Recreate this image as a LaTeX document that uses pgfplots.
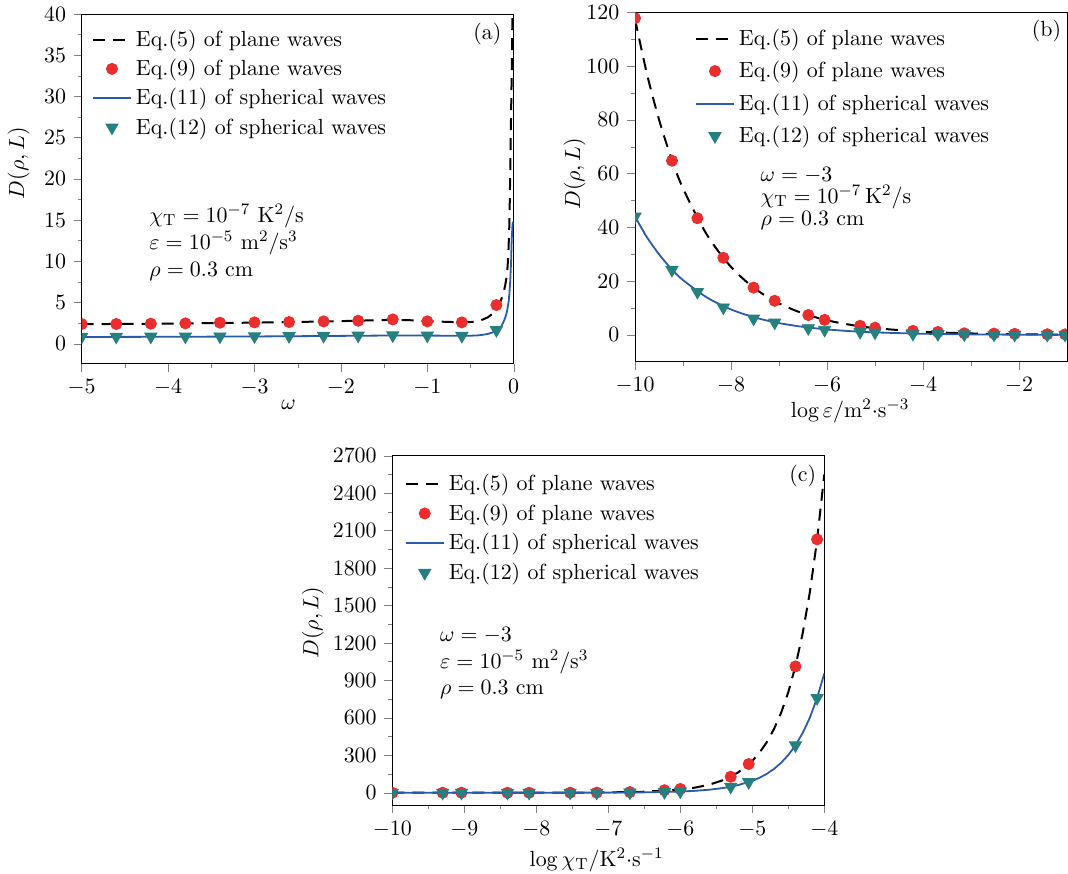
\documentclass[11pt,border=0pt]{standalone}
\usepackage{pgfplots}
\pgfplotsset{compat=1.18}

\definecolor{cred}{RGB}{235,45,45}
\definecolor{cteal}{RGB}{38,128,128}
\definecolor{cblue}{RGB}{42,90,170}

\pgfplotsset{
  panel/.style={
    scale only axis, width=216pt, height=174.75pt,
    anchor=north west,
    axis line style={line width=0.5pt},
    tick align=outside, tick pos=left,
    minor x tick num=1, minor y tick num=1,
    major tick length=4pt, minor tick length=2pt,
    clip marker paths=true,
    /pgf/number format/1000 sep={},
    legend cell align=left,
    legend style={draw=none, fill=none, anchor=north west},
  },
  eqfive/.style={black, line width=1pt, dash pattern=on 6pt off 4pt, no marks,
    legend image code/.code={\draw[##1] (0pt,0pt) -- (19pt,0pt);}},
  eqeleven/.style={cblue, line width=0.9pt, no marks,
    legend image code/.code={\draw[##1] (0pt,0pt) -- (19pt,0pt);}},
  eqnine/.style={cred, only marks, mark=*, mark size=2.8pt,
    legend image code/.code={\draw[##1] plot coordinates {(9.5pt,0pt)};}},
  eqtwelve/.style={cteal, only marks, mark=triangle*, mark size=3.5pt,
    mark options={rotate=180},
    legend image code/.code={\draw[##1] plot coordinates {(9.5pt,0pt)};}},
}

\begin{document}
\begin{tikzpicture}
\useasboundingbox (0,0) rectangle (534pt,-436.5pt);

% (a) D versus omega
\begin{axis}[panel, at={(40.85pt,-7pt)},
  xmin=-5, xmax=0, ymin=-2.4, ymax=40,
  xtick={-5,-4,-3,-2,-1,0}, ytick={0,5,...,40},
  xlabel={$\omega$}, ylabel={$D(\rho,L)$},
  xlabel style={at={(axis description cs:0.479,-0.119)}, anchor=center},
  ylabel style={at={(axis description cs:-0.146,0.573)}, anchor=center},
  legend style={at={(0.009,0.979)}, row sep=0.8pt},
]
\addplot[eqfive] coordinates {
  (-5,2.38) (-4.5,2.40) (-4,2.44) (-3.5,2.50) (-3,2.56) (-2.5,2.64) (-2,2.74)
  (-1.6,2.85) (-1.4,2.90) (-1.2,2.85) (-1,2.75) (-0.8,2.66) (-0.6,2.60)
  (-0.5,2.62) (-0.4,2.75) (-0.3,3.2) (-0.25,3.6) (-0.2,4.2) (-0.15,5.2)
  (-0.12,6.1) (-0.1,7.0) (-0.08,8.2) (-0.07,9.5) (-0.06,11.5) (-0.05,14.5)
  (-0.045,17.5) (-0.04,21) (-0.035,24.5) (-0.03,28) (-0.025,31.5) (-0.02,35)
  (-0.015,40) (-0.01,48)
};
\addlegendentry{Eq.(5) of plane waves}
\addplot[eqnine] coordinates {
  (-5,2.39) (-4.6,2.39) (-4.2,2.43) (-3.8,2.47) (-3.4,2.55) (-3,2.59) (-2.6,2.63)
  (-2.2,2.71) (-1.8,2.79) (-1.4,2.95) (-1,2.71) (-0.6,2.59) (-0.2,4.69)
};
\addlegendentry{Eq.(9) of plane waves}
\addplot[eqeleven] coordinates {
  (-5,0.82) (-4,0.84) (-3,0.88) (-2,0.95) (-1.4,1.0) (-1,0.99) (-0.6,0.96)
  (-0.5,0.97) (-0.4,1.02) (-0.3,1.18) (-0.25,1.35) (-0.2,1.6) (-0.15,2.0)
  (-0.12,2.6) (-0.1,3.1) (-0.08,3.8) (-0.06,5.0) (-0.05,6.0) (-0.04,7.6)
  (-0.03,10.0) (-0.025,12) (-0.02,13.3) (-0.015,14.2) (-0.01,14.8)
};
\addlegendentry{Eq.(11) of spherical waves}
\addplot[eqtwelve] coordinates {
  (-5,0.85) (-4.6,0.85) (-4.2,0.86) (-3.8,0.87) (-3.4,0.88) (-3,0.9) (-2.6,0.92)
  (-2.2,0.95) (-1.8,0.98) (-1.4,1.02) (-1,0.98) (-0.6,0.95) (-0.2,1.65)
};
\addlegendentry{Eq.(12) of spherical waves}
\node at (rel axis cs:0.939,0.943) {(a)};
\node[anchor=west, align=left] at (rel axis cs:0.139,0.346)
  {$\chi_{\mathrm{T}}=10^{-7}\ \mathrm{K^2/s}$\\
   $\varepsilon=10^{-5}\ \mathrm{m^2/s^3}$\\
   $\rho=0.3\ \mathrm{cm}$};
\end{axis}

% (b) D versus log epsilon
\begin{axis}[panel, at={(317.5pt,-6.15pt)},
  xmin=-10, xmax=-1, ymin=-10, ymax=120,
  xtick={-10,-8,-6,-4,-2}, ytick={0,20,...,120},
  xlabel={$\log\varepsilon/\mathrm{m^2{\cdot}s^{-3}}$}, ylabel={$D(\rho,L)$},
  xlabel style={at={(axis description cs:0.498,-0.142)}, anchor=center},
  ylabel style={at={(axis description cs:-0.1396,0.538)}, anchor=center},
  legend style={at={(0.124,0.977)}, row sep=2.4pt},
]
\addplot[eqfive, smooth] coordinates {
  (-10,117.5) (-9.75,97.0) (-9.5,80.1) (-9.25,66.1) (-9,54.5) (-8.5,37.2)
  (-8,25.3) (-7.5,17.2) (-7,11.75) (-6.5,8.0) (-6,5.45) (-5.5,3.72) (-5,2.53)
  (-4,1.18) (-3,0.55) (-2,0.25) (-1,0.12)
};
\addlegendentry{Eq.(5) of plane waves}
\addplot[eqnine] coordinates {
  (-10,117.8) (-9.23,64.8) (-8.7,43.4) (-8.16,28.7) (-7.53,17.6) (-7.09,12.7)
  (-6.39,7.4) (-6.05,5.6) (-5.31,3.4) (-5.0,2.7) (-4.21,1.5) (-3.69,1.1)
  (-3.14,0.6) (-2.52,0.5) (-2.09,0.4) (-1.41,0.25) (-1.04,0.2)
};
\addlegendentry{Eq.(9) of plane waves}
\addplot[eqeleven, smooth] coordinates {
  (-10,44) (-9.75,36.3) (-9.5,30.0) (-9.25,24.7) (-9,20.4) (-8.5,13.9)
  (-8,9.48) (-7.5,6.46) (-7,4.4) (-6.5,3.0) (-6,2.04) (-5.5,1.39) (-5,0.95)
  (-4,0.44) (-3,0.2) (-2,0.09) (-1,0.04)
};
\addlegendentry{Eq.(11) of spherical waves}
\addplot[eqtwelve] coordinates {
  (-10,44) (-9.23,24.2) (-8.7,16.0) (-8.16,10.2) (-7.53,6.1) (-7.09,4.6)
  (-6.39,2.5) (-6.05,1.9) (-5.31,1.1) (-5.0,0.9) (-4.21,0.4) (-3.69,0.3)
  (-3.14,0.2) (-2.52,0.1) (-2.09,0.08) (-1.41,0.05) (-1.04,0.04)
};
\addlegendentry{Eq.(12) of spherical waves}
\node at (rel axis cs:0.9526,0.945) {(b)};
\node[anchor=west, align=left] at (rel axis cs:0.273,0.467)
  {$\omega=-3$\\[-2.4pt]
   $\chi_{\mathrm{T}}=10^{-7}\,\mathrm{K^2/s}$\\[-2.4pt]
   $\rho=0.3\ \mathrm{cm}$};
\end{axis}

% (c) D versus log chi_T
\begin{axis}[panel, at={(196.15pt,-227.85pt)},
  xmin=-10, xmax=-4, ymin=-100, ymax=2700,
  xtick={-10,-9,-8,-7,-6,-5,-4}, ytick={0,300,...,2700},
  xlabel={$\log\chi_{\mathrm{T}}/\mathrm{K^2{\cdot}s^{-1}}$}, ylabel={$D(\rho,L)$},
  xlabel style={at={(axis description cs:0.473,-0.157)}, anchor=center},
  ylabel style={at={(axis description cs:-0.1836,0.523)}, anchor=center},
  legend style={at={(0.014,0.972)}, row sep=1pt},
]
\addplot[eqfive] coordinates {
  (-10,0.003) (-9,0.026) (-8,0.26) (-7,2.55) (-6.5,8.06) (-6,25.5) (-5.8,40.4)
  (-5.6,64.1) (-5.4,101.5) (-5.2,161) (-5,255) (-4.9,321) (-4.8,404)
  (-4.7,509) (-4.6,640) (-4.5,806) (-4.4,1015) (-4.3,1278) (-4.2,1609)
  (-4.1,2026) (-4,2550)
};
\addlegendentry{Eq.(5) of plane waves}
\addplot[eqnine] coordinates {
  (-10,0) (-9.3,0) (-9.04,0) (-8.4,0) (-8.1,0) (-7.53,0.5) (-7.16,1) (-6.7,5)
  (-6.22,20) (-6,30) (-5.3,128) (-5.05,230) (-4.4,1012) (-4.1,2030)
};
\addlegendentry{Eq.(9) of plane waves}
\addplot[eqeleven] coordinates {
  (-10,0.001) (-9,0.01) (-8,0.1) (-7,0.955) (-6.5,3.02) (-6,9.55) (-5.8,15.1)
  (-5.6,24.0) (-5.4,38.0) (-5.2,60.3) (-5,95.5) (-4.9,120) (-4.8,151)
  (-4.7,190) (-4.6,240) (-4.5,302) (-4.4,380) (-4.3,479) (-4.2,602)
  (-4.1,759) (-4,955)
};
\addlegendentry{Eq.(11) of spherical waves}
\addplot[eqtwelve] coordinates {
  (-10,0) (-9.3,0) (-9.04,0) (-8.4,0) (-8.1,0) (-7.53,0.2) (-7.16,0.4) (-6.7,1.9)
  (-6.22,5.8) (-6,9.6) (-5.3,48) (-5.05,85) (-4.4,380) (-4.1,759)
};
\addlegendentry{Eq.(12) of spherical waves}
\node at (rel axis cs:0.95,0.942) {(c)};
\node[anchor=west, align=left] at (rel axis cs:0.093,0.406)
  {$\omega=-3$\\[-0.3pt]
   $\varepsilon=10^{-5}\ \mathrm{m^2/s^3}$\\[-0.3pt]
   $\rho=0.3\ \mathrm{cm}$};
\end{axis}
\end{tikzpicture}
\end{document}
